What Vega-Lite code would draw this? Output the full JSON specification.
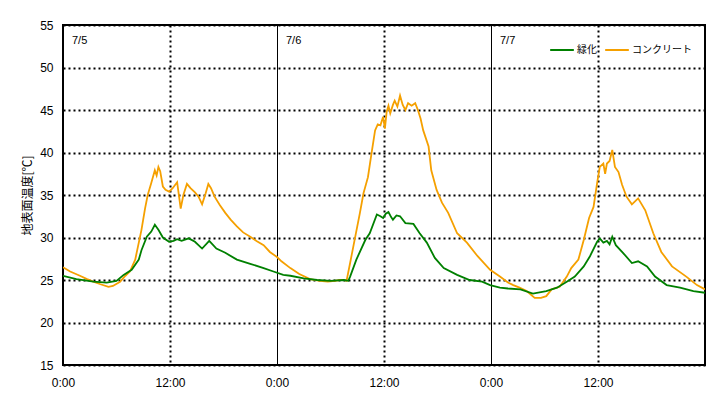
{
  "$schema": "https://vega.github.io/schema/vega-lite/v6.json",
  "width": 642,
  "height": 340,
  "autosize": {"type": "none"},
  "padding": {"left": 63, "top": 25, "right": 16, "bottom": 34},
  "background": "white",
  "config": {
    "view": {"stroke": "black", "strokeWidth": 2},
    "font": "Liberation Sans, Noto Sans CJK JP",
    "axis": {"domain": false, "ticks": false, "labelColor": "black", "labelFontSize": 12, "labelFont": "Liberation Sans, Noto Sans CJK JP", "titleColor": "black"}
  },
  "layer": [
    {
      "data": {"values": [
        {"h":0,"s":"コンクリート","t":26.5},{"h":0.8,"s":"コンクリート","t":26.0},{"h":1.9,"s":"コンクリート","t":25.5},{"h":2.7,"s":"コンクリート","t":25.1},{"h":3.4,"s":"コンクリート","t":24.8},{"h":4.2,"s":"コンクリート","t":24.5},{"h":5.1,"s":"コンクリート","t":24.2},{"h":5.6,"s":"コンクリート","t":24.3},{"h":6.4,"s":"コンクリート","t":24.8},{"h":7.0,"s":"コンクリート","t":25.5},{"h":7.5,"s":"コンクリート","t":26.0},{"h":8.1,"s":"コンクリート","t":27.4},{"h":8.4,"s":"コンクリート","t":28.9},{"h":8.8,"s":"コンクリート","t":30.9},{"h":9.2,"s":"コンクリート","t":33.4},{"h":9.5,"s":"コンクリート","t":35.0},{"h":9.9,"s":"コンクリート","t":36.4},{"h":10.3,"s":"コンクリート","t":37.9},{"h":10.5,"s":"コンクリート","t":37.3},{"h":10.7,"s":"コンクリート","t":38.3},{"h":10.9,"s":"コンクリート","t":37.8},{"h":11.2,"s":"コンクリート","t":36.0},{"h":11.5,"s":"コンクリート","t":35.6},{"h":11.9,"s":"コンクリート","t":35.4},{"h":12.3,"s":"コンクリート","t":35.8},{"h":12.8,"s":"コンクリート","t":36.5},{"h":13.2,"s":"コンクリート","t":33.4},{"h":13.5,"s":"コンクリート","t":35.0},{"h":13.9,"s":"コンクリート","t":36.3},{"h":14.3,"s":"コンクリート","t":35.8},{"h":14.8,"s":"コンクリート","t":35.3},{"h":15.2,"s":"コンクリート","t":34.8},{"h":15.6,"s":"コンクリート","t":33.9},{"h":16.0,"s":"コンクリート","t":35.2},{"h":16.3,"s":"コンクリート","t":36.3},{"h":16.6,"s":"コンクリート","t":35.8},{"h":17.0,"s":"コンクリート","t":34.8},{"h":17.6,"s":"コンクリート","t":33.8},{"h":18.2,"s":"コンクリート","t":32.9},{"h":18.8,"s":"コンクリート","t":32.1},{"h":19.5,"s":"コンクリート","t":31.3},{"h":20.2,"s":"コンクリート","t":30.6},{"h":21.0,"s":"コンクリート","t":30.1},{"h":21.7,"s":"コンクリート","t":29.6},{"h":22.5,"s":"コンクリート","t":29.1},{"h":23.2,"s":"コンクリート","t":28.3},{"h":24.0,"s":"コンクリート","t":27.7},{"h":24.5,"s":"コンクリート","t":27.2},{"h":25.5,"s":"コンクリート","t":26.4},{"h":26.5,"s":"コンクリート","t":25.7},{"h":27.7,"s":"コンクリート","t":25.1},{"h":28.8,"s":"コンクリート","t":24.9},{"h":29.7,"s":"コンクリート","t":24.8},{"h":30.5,"s":"コンクリート","t":24.9},{"h":31.0,"s":"コンクリート","t":25.0},{"h":31.5,"s":"コンクリート","t":25.0},{"h":31.8,"s":"コンクリート","t":24.9},{"h":32.2,"s":"コンクリート","t":27.0},{"h":32.7,"s":"コンクリート","t":29.7},{"h":33.3,"s":"コンクリート","t":32.9},{"h":33.7,"s":"コンクリート","t":35.2},{"h":34.2,"s":"コンクリート","t":37.1},{"h":34.6,"s":"コンクリート","t":39.9},{"h":35.0,"s":"コンクリート","t":42.6},{"h":35.3,"s":"コンクリート","t":43.3},{"h":35.6,"s":"コンクリート","t":43.2},{"h":35.9,"s":"コンクリート","t":44.2},{"h":36.1,"s":"コンクリート","t":42.8},{"h":36.3,"s":"コンクリート","t":44.8},{"h":36.5,"s":"コンクリート","t":45.5},{"h":36.7,"s":"コンクリート","t":44.6},{"h":37.0,"s":"コンクリート","t":45.6},{"h":37.2,"s":"コンクリート","t":46.1},{"h":37.5,"s":"コンクリート","t":45.4},{"h":37.8,"s":"コンクリート","t":46.7},{"h":38.1,"s":"コンクリート","t":45.6},{"h":38.4,"s":"コンクリート","t":45.0},{"h":38.7,"s":"コンクリート","t":45.8},{"h":39.1,"s":"コンクリート","t":45.5},{"h":39.5,"s":"コンクリート","t":45.8},{"h":39.8,"s":"コンクリート","t":45.0},{"h":40.1,"s":"コンクリート","t":44.0},{"h":40.4,"s":"コンクリート","t":42.6},{"h":41.0,"s":"コンクリート","t":40.7},{"h":41.3,"s":"コンクリート","t":37.9},{"h":41.9,"s":"コンクリート","t":35.6},{"h":42.5,"s":"コンクリート","t":34.1},{"h":43.2,"s":"コンクリート","t":32.9},{"h":44.2,"s":"コンクリート","t":30.5},{"h":45.3,"s":"コンクリート","t":29.4},{"h":46.5,"s":"コンクリート","t":27.8},{"h":47.9,"s":"コンクリート","t":26.2},{"h":49.0,"s":"コンクリート","t":25.4},{"h":49.9,"s":"コンクリート","t":24.7},{"h":50.5,"s":"コンクリート","t":24.4},{"h":51.2,"s":"コンクリート","t":24.1},{"h":52.0,"s":"コンクリート","t":23.7},{"h":52.9,"s":"コンクリート","t":22.9},{"h":53.6,"s":"コンクリート","t":22.9},{"h":54.2,"s":"コンクリート","t":23.1},{"h":54.8,"s":"コンクリート","t":23.9},{"h":55.7,"s":"コンクリート","t":24.2},{"h":56.5,"s":"コンクリート","t":25.4},{"h":57.0,"s":"コンクリート","t":26.4},{"h":57.8,"s":"コンクリート","t":27.4},{"h":58.4,"s":"コンクリート","t":29.7},{"h":59.0,"s":"コンクリート","t":32.3},{"h":59.5,"s":"コンクリート","t":33.6},{"h":59.9,"s":"コンクリート","t":36.4},{"h":60.2,"s":"コンクリート","t":38.3},{"h":60.6,"s":"コンクリート","t":38.7},{"h":60.8,"s":"コンクリート","t":37.5},{"h":61.0,"s":"コンクリート","t":38.7},{"h":61.3,"s":"コンクリート","t":39.0},{"h":61.6,"s":"コンクリート","t":40.3},{"h":61.9,"s":"コンクリート","t":38.3},{"h":62.3,"s":"コンクリート","t":37.7},{"h":62.7,"s":"コンクリート","t":36.2},{"h":63.2,"s":"コンクリート","t":34.8},{"h":63.8,"s":"コンクリート","t":33.9},{"h":64.5,"s":"コンクリート","t":34.6},{"h":65.3,"s":"コンクリート","t":33.2},{"h":66.2,"s":"コンクリート","t":30.5},{"h":67.1,"s":"コンクリート","t":28.3},{"h":68.3,"s":"コンクリート","t":26.6},{"h":69.9,"s":"コンクリート","t":25.4},{"h":71.1,"s":"コンクリート","t":24.4},{"h":72.0,"s":"コンクリート","t":23.9},
        {"h":0,"s":"緑化","t":25.5},{"h":1.5,"s":"緑化","t":25.1},{"h":3.4,"s":"緑化","t":24.8},{"h":4.9,"s":"緑化","t":24.7},{"h":6.0,"s":"緑化","t":24.9},{"h":6.8,"s":"緑化","t":25.6},{"h":7.7,"s":"緑化","t":26.2},{"h":8.5,"s":"緑化","t":27.4},{"h":8.8,"s":"緑化","t":28.5},{"h":9.4,"s":"緑化","t":30.1},{"h":9.9,"s":"緑化","t":30.7},{"h":10.3,"s":"緑化","t":31.5},{"h":10.7,"s":"緑化","t":30.9},{"h":11.2,"s":"緑化","t":30.0},{"h":11.9,"s":"緑化","t":29.5},{"h":12.4,"s":"緑化","t":29.6},{"h":12.8,"s":"緑化","t":29.8},{"h":13.3,"s":"緑化","t":29.6},{"h":14.1,"s":"緑化","t":29.9},{"h":14.8,"s":"緑化","t":29.5},{"h":15.6,"s":"緑化","t":28.7},{"h":16.4,"s":"緑化","t":29.6},{"h":17.2,"s":"緑化","t":28.7},{"h":18.2,"s":"緑化","t":28.2},{"h":19.5,"s":"緑化","t":27.4},{"h":21.0,"s":"緑化","t":26.9},{"h":22.5,"s":"緑化","t":26.4},{"h":23.6,"s":"緑化","t":26.0},{"h":24.7,"s":"緑化","t":25.6},{"h":25.5,"s":"緑化","t":25.5},{"h":27.0,"s":"緑化","t":25.2},{"h":28.5,"s":"緑化","t":25.0},{"h":30.0,"s":"緑化","t":24.9},{"h":31.5,"s":"緑化","t":25.0},{"h":32.0,"s":"緑化","t":24.9},{"h":32.2,"s":"緑化","t":25.4},{"h":32.9,"s":"緑化","t":27.4},{"h":33.9,"s":"緑化","t":29.7},{"h":34.4,"s":"緑化","t":30.5},{"h":35.2,"s":"緑化","t":32.7},{"h":35.6,"s":"緑化","t":32.5},{"h":35.9,"s":"緑化","t":32.3},{"h":36.2,"s":"緑化","t":32.8},{"h":36.5,"s":"緑化","t":33.0},{"h":36.8,"s":"緑化","t":32.4},{"h":37.0,"s":"緑化","t":32.1},{"h":37.4,"s":"緑化","t":32.6},{"h":37.8,"s":"緑化","t":32.5},{"h":38.4,"s":"緑化","t":31.7},{"h":39.3,"s":"緑化","t":31.6},{"h":40.0,"s":"緑化","t":30.5},{"h":40.8,"s":"緑化","t":29.4},{"h":41.7,"s":"緑化","t":27.6},{"h":42.7,"s":"緑化","t":26.4},{"h":44.2,"s":"緑化","t":25.6},{"h":45.6,"s":"緑化","t":25.0},{"h":47.0,"s":"緑化","t":24.8},{"h":47.9,"s":"緑化","t":24.4},{"h":49.0,"s":"緑化","t":24.1},{"h":49.9,"s":"緑化","t":24.0},{"h":51.3,"s":"緑化","t":23.9},{"h":52.7,"s":"緑化","t":23.4},{"h":54.2,"s":"緑化","t":23.7},{"h":55.4,"s":"緑化","t":24.1},{"h":56.5,"s":"緑化","t":24.8},{"h":57.4,"s":"緑化","t":25.4},{"h":58.4,"s":"緑化","t":26.6},{"h":59.1,"s":"緑化","t":27.8},{"h":59.9,"s":"緑化","t":29.5},{"h":60.2,"s":"緑化","t":29.9},{"h":60.6,"s":"緑化","t":29.4},{"h":61.0,"s":"緑化","t":29.6},{"h":61.3,"s":"緑化","t":29.2},{"h":61.6,"s":"緑化","t":30.1},{"h":62.0,"s":"緑化","t":29.1},{"h":62.8,"s":"緑化","t":28.2},{"h":63.8,"s":"緑化","t":27.0},{"h":64.5,"s":"緑化","t":27.2},{"h":65.5,"s":"緑化","t":26.6},{"h":66.4,"s":"緑化","t":25.4},{"h":67.7,"s":"緑化","t":24.4},{"h":69.2,"s":"緑化","t":24.1},{"h":70.7,"s":"緑化","t":23.7},{"h":72.0,"s":"緑化","t":23.5}
      ]},
      "mark": {"type": "line", "strokeWidth": 1.8, "clip": true},
      "encoding": {
        "x": {
          "field": "h", "type": "quantitative",
          "scale": {"domain": [0, 72], "nice": false, "zero": false},
          "axis": {
            "title": null,
            "values": [0, 12, 24, 36, 48, 60],
            "labelExpr": "datum.value % 24 == 0 ? '0:00' : '12:00'",
            "labelFlush": false,
            "labelPadding": 12,
            "grid": true,
            "gridColor": "black",
            "gridOpacity": 1,
            "gridDash": {"condition": {"test": "datum.value % 24 == 0", "value": []}, "value": [2, 3]},
            "gridWidth": {"condition": {"test": "datum.value % 24 == 0", "value": 1}, "value": 2}
          }
        },
        "y": {
          "field": "t", "type": "quantitative",
          "scale": {"domain": [15, 55], "nice": false, "zero": false},
          "axis": {
            "title": "地表面温度[℃]",
            "titleFont": "Noto Sans CJK JP",
            "titleFontSize": 12,
            "titleFontWeight": "normal",
            "titlePadding": 5,
            "values": [15, 20, 25, 30, 35, 40, 45, 50, 55],
            "labelFlush": false,
            "labelPadding": 10,
            "grid": true,
            "gridColor": "black",
            "gridOpacity": 1,
            "gridDash": [2, 3],
            "gridWidth": 2
          }
        },
        "color": {
          "field": "s", "type": "nominal",
          "scale": {"domain": ["緑化", "コンクリート"], "range": ["#008000", "#F5A000"]},
          "legend": {
            "title": null,
            "orient": "none",
            "legendX": 486,
            "legendY": 12,
            "direction": "horizontal",
            "symbolType": "stroke",
            "symbolStrokeWidth": 2,
            "symbolSize": 560,
            "labelFont": "Noto Sans CJK JP",
            "labelFontSize": 10,
            "labelColor": "black",
            "labelOffset": 2,
            "columnPadding": 4
          }
        }
      }
    },
    {
      "data": {"values": [
        {"h": 0, "t": 53.1, "label": "7/5"},
        {"h": 24, "t": 53.1, "label": "7/6"},
        {"h": 48, "t": 53.1, "label": "7/7"}
      ]},
      "mark": {"type": "text", "align": "left", "baseline": "middle", "dx": 9, "fontSize": 11, "color": "black", "font": "Liberation Sans"},
      "encoding": {
        "x": {"field": "h", "type": "quantitative"},
        "y": {"field": "t", "type": "quantitative"},
        "text": {"field": "label"}
      }
    }
  ]
}
